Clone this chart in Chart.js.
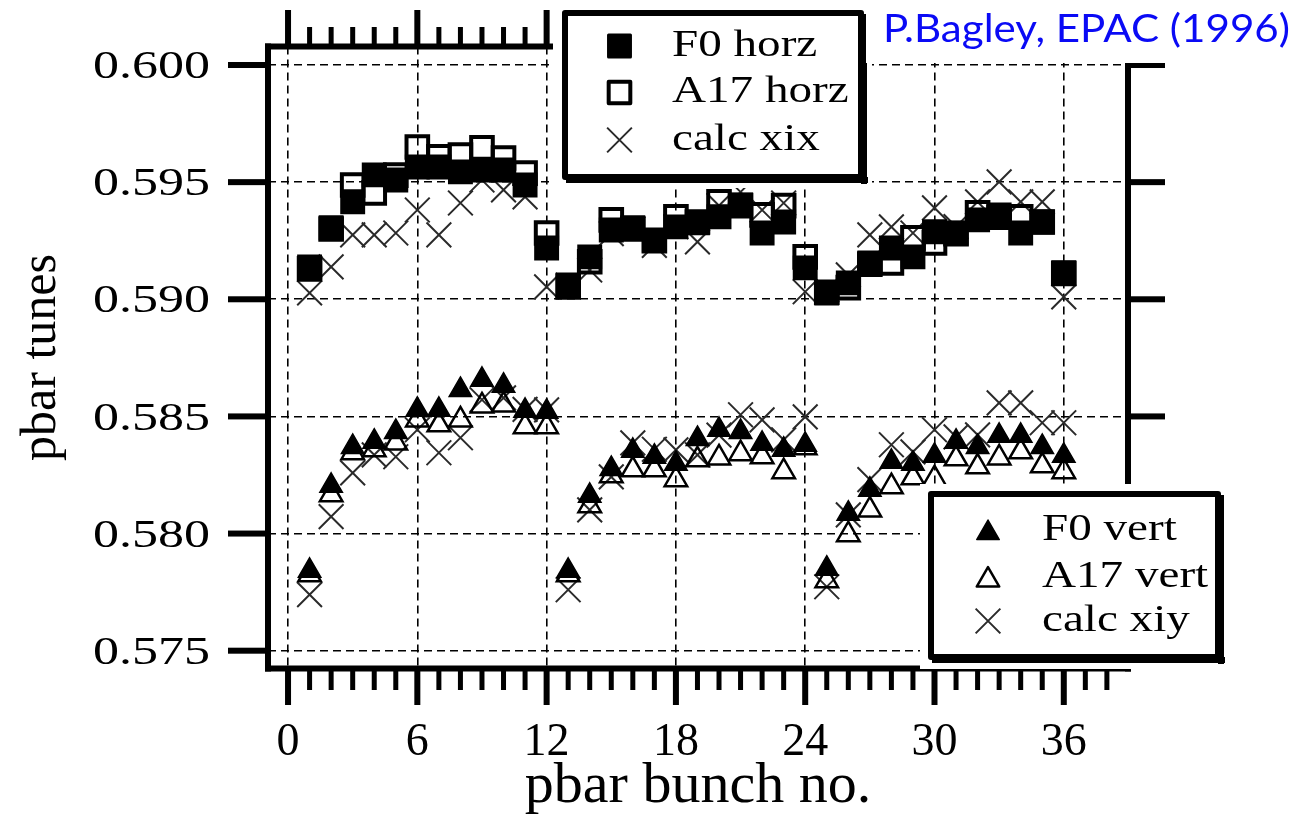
<!DOCTYPE html>
<html>
<head>
<meta charset="utf-8">
<script src="https://cdn.jsdelivr.net/npm/chart.js@4/dist/chart.umd.min.js"></script>
<style>
html,body{margin:0;padding:0;background:#fff;overflow:hidden}
#wrap{position:relative;width:1297px;height:816px}
</style>
</head>
<body>
<div id="wrap"><canvas id="c" width="1297" height="816"></canvas></div>
<script>
// ---------------- data ----------------
const bunches = [1,2,3,4,5,6,7,8,9,10,11,12,13,14,15,16,17,18,19,20,21,22,23,24,25,26,27,28,29,30,31,32,33,34,35,36];

const f0Horz  = [0.59138,0.59305,0.59416,0.59531,0.59509,0.59565,0.59565,0.59544,0.59552,0.59552,0.59488,0.59219,
                 0.59061,0.59181,0.59296,0.59305,0.59253,0.59309,0.59326,0.59352,0.59403,0.59283,0.59330,0.59134,
                 0.59027,0.59070,0.59155,0.59219,0.59181,0.59288,0.59283,0.59339,0.59360,0.59283,0.59330,0.59113];
const a17Horz = [0.59130,0.59300,0.59488,0.59454,0.59530,0.59650,0.59608,0.59616,0.59646,0.59603,0.59539,0.59283,
                 0.59053,0.59160,0.59339,0.59300,0.59250,0.59352,0.59330,0.59416,0.59400,0.59360,0.59400,0.59181,
                 0.59030,0.59050,0.59150,0.59155,0.59262,0.59241,0.59280,0.59369,0.59350,0.59352,0.59330,0.59110];
const calcXix = [0.59027,0.59138,0.59275,0.59275,0.59283,0.59381,0.59275,0.59411,0.59509,0.59467,0.59437,0.59053,
                 0.59060,0.59125,0.59280,0.59300,0.59230,0.59310,0.59245,0.59400,0.59458,0.59381,0.59411,0.59032,
                 0.59040,0.59104,0.59275,0.59309,0.59283,0.59390,0.59310,0.59416,0.59501,0.59416,0.59416,0.59010];

const f0Vert  = [0.57841,0.58204,0.58370,0.58392,0.58434,0.58528,0.58528,0.58613,0.58656,0.58631,0.58524,0.58520,
                 0.57841,0.58161,0.58276,0.58353,0.58328,0.58298,0.58404,0.58443,0.58434,0.58383,0.58358,0.58379,
                 0.57850,0.58085,0.58187,0.58306,0.58298,0.58332,0.58392,0.58370,0.58417,0.58417,0.58370,0.58332];
const a17Vert = [0.57824,0.58166,0.58345,0.58358,0.58387,0.58485,0.58464,0.58485,0.58545,0.58549,0.58456,0.58456,
                 0.57824,0.58119,0.58247,0.58272,0.58272,0.58230,0.58315,0.58323,0.58341,0.58328,0.58264,0.58366,
                 0.57799,0.57995,0.58101,0.58200,0.58238,0.58234,0.58319,0.58285,0.58323,0.58349,0.58289,0.58264];
const calcXiy = [0.57739,0.58072,0.58259,0.58336,0.58328,0.58443,0.58345,0.58409,0.58571,0.58579,0.58530,0.58528,
                 0.57760,0.58101,0.58242,0.58387,0.58360,0.58357,0.58336,0.58420,0.58507,0.58485,0.58400,0.58498,
                 0.57773,0.58080,0.58230,0.58379,0.58349,0.58443,0.58413,0.58421,0.58558,0.58558,0.58473,0.58473];

const xTicks = [0,6,12,18,24,30,36];
const yTicks = [0.575,0.580,0.585,0.590,0.595,0.600];
const yTickLabels = ['0.575','0.580','0.585','0.590','0.595','0.600'];
const xTitle = 'pbar bunch no.';
const yTitle = 'pbar tunes';
const credit = 'P.Bagley, EPAC (1996)';
const legendTop = ['F0 horz','A17 horz','calc xix'];
const legendBottom = ['F0 vert','A17 vert','calc xiy'];

// ---------------- chart ----------------
const SERIF = "'Liberation Serif', 'Times New Roman', serif";
const pts = arr => bunches.map((b,i)=>({x:b, y:arr[i]}));
const NONE = 'rgba(0,0,0,0)';

const datasets = [
  {label:legendTop[0], data:pts(f0Horz), pointStyle:'rect', pointRadius:15.5, borderWidth:3, backgroundColor:'#000', borderColor:'#000'},
  {label:legendTop[1], data:pts(a17Horz), pointStyle:'rect', pointRadius:15.3, borderWidth:4, backgroundColor:NONE, borderColor:'#000'},
  {label:legendTop[2], data:pts(calcXix), pointStyle:'crossRot', pointRadius:17.5, borderWidth:2, backgroundColor:NONE, borderColor:'#2a2a2a'},
  {label:legendBottom[0], data:pts(f0Vert), pointStyle:'triangle', pointRadius:13, borderWidth:1.5, backgroundColor:'#000', borderColor:'#000'},
  {label:legendBottom[1], data:pts(a17Vert), pointStyle:'triangle', pointRadius:13, borderWidth:2.5, backgroundColor:NONE, borderColor:'#000'},
  {label:legendBottom[2], data:pts(calcXiy), pointStyle:'crossRot', pointRadius:17.5, borderWidth:2, backgroundColor:NONE, borderColor:'#2a2a2a'}
];
datasets.forEach(d=>{d.showLine=false; d.pointHoverRadius=d.pointRadius;});

function stretchText(ctx, text, x, y, sx, align){
  ctx.save(); ctx.translate(x,y); ctx.scale(sx,1); ctx.textAlign=align; ctx.textBaseline='alphabetic';
  ctx.fillText(text,0,0); ctx.restore();
}

function drawLegendBox(chart, ctx, box, white, idx, labels, mx, tx, rowsY){
  ctx.fillStyle='#fff';
  ctx.fillRect(white[0], white[1], white[2]-white[0], white[3]-white[1]);
  ctx.fillStyle='#000';
  ctx.fillRect(box[2]-3, box[1]+4, 6, box[3]-box[1]);
  ctx.fillRect(box[0]+4, box[3]-3, box[2]-box[0], 6);
  ctx.strokeStyle='#000'; ctx.lineWidth=6; ctx.lineJoin='round';
  ctx.strokeRect(box[0]+3, box[1]+3, box[2]-box[0]-6, box[3]-box[1]-6);
  labels.forEach((lab,k)=>{
    const ds = chart.data.datasets[idx[k]];
    const cy = rowsY[k];
    ctx.save();
    ctx.fillStyle = ds.backgroundColor; ctx.strokeStyle = ds.borderColor; ctx.lineWidth = ds.borderWidth;
    const off = ds.pointStyle==='triangle' ? 3 : 0;
    Chart.helpers.drawPoint(ctx, {pointStyle:ds.pointStyle, radius:ds.pointRadius, rotation:0, borderWidth:ds.borderWidth}, mx, cy+off);
    ctx.restore();
    ctx.fillStyle='#000';
    ctx.font = "38px " + SERIF;
    stretchText(ctx, lab, tx, cy+9.5, 1.24, 'left');
  });
}

const decor = {
  id:'decor',
  afterDraw(chart){
    const {ctx, chartArea:a, scales:{x, y}} = chart;
    ctx.save();
    ctx.fillStyle='#000';
    // frame
    ctx.fillRect(a.left-3, a.top-3, 6, a.bottom-a.top+6);
    ctx.fillRect(a.left-3, a.top-3, a.right-a.left+6, 6);
    ctx.fillRect(a.right-3, a.top-3, 6, a.bottom-a.top+6);
    ctx.fillRect(a.left-3, a.bottom-3, a.right-a.left+6, 6);
    // x ticks (bottom and top, outside)
    for(let n=0;n<=38;n++){
      const px = x.getPixelForValue(n);
      const major = n%6===0;
      const w = major?6:5;
      ctx.fillRect(px-w/2, a.bottom, w, major?36.5:21.5);
      ctx.fillRect(px-w/2, a.top-(major?36.5:19.5), w, major?36.5:19.5);
    }
    // y ticks (left & right, outside) and labels
    ctx.font = "40px " + SERIF;
    yTicks.forEach((v,i)=>{
      const py = y.getPixelForValue(v);
      ctx.fillRect(228, py-3, a.left-228, 6);
      ctx.fillRect(a.right, py-3, 37, 6);
      stretchText(ctx, yTickLabels[i], 210, py+13.2, 1.3, 'right');
    });
    // legends
    drawLegendBox(chart, ctx, [562,10,864,180], [553,0,872,188], [0,1,2], legendTop, 619.5, 672, [46,92.5,140]);
    drawLegendBox(chart, ctx, [928,491,1221,660], [920,484,1232,669], [3,4,5], legendBottom, 988, 1042, [530,577,621]);
    // credit
    ctx.fillStyle='#fff';
    ctx.fillRect(866,0,1297-866,63);
    ctx.fillStyle='#0a0af5';
    ctx.font = "39px Lato, 'Open Sans', sans-serif";
    const w = ctx.measureText(credit).width;
    stretchText(ctx, credit, 883, 42, 407/w, 'left');
    ctx.restore();
  }
};

new Chart(document.getElementById('c'), {
  type:'scatter',
  data:{datasets},
  options:{
    responsive:false, animation:false, events:[],
    layout:{padding:{left:0, right:169, top:46.5, bottom:0}},
    plugins:{legend:{display:false}, tooltip:{enabled:false}},
    scales:{
      x:{
        type:'linear', min:-0.93, max:38.98,
        afterBuildTicks:s=>{ s.ticks = xTicks.map(v=>({value:v})); },
        afterFit:s=>{ s.height = 147.5; },
        grid:{color:'#000', lineWidth:1.6, drawTicks:false},
        border:{display:false, dash:[8,5]},
        ticks:{padding:47, color:'#000', font:{family:SERIF, size:46}, maxRotation:0, autoSkip:false, callback:v=>String(v)},
        title:{display:true, text:xTitle, color:'#000', font:{family:SERIF, size:58, lineHeight:1}, padding:{top:0,bottom:0}}
      },
      y:{
        type:'linear', min:0.57424, max:0.60079,
        afterBuildTicks:s=>{ s.ticks = yTicks.map(v=>({value:v})); },
        afterFit:s=>{ s.width = 268; },
        grid:{color:'#000', lineWidth:1.6, drawTicks:false},
        border:{display:false, dash:[8,5]},
        ticks:{display:false},
        title:{display:true, text:yTitle, color:'#000', font:{family:SERIF, size:50, lineHeight:1}, padding:{top:17,bottom:0}}
      }
    }
  },
  plugins:[decor]
});
</script>
</body>
</html>
